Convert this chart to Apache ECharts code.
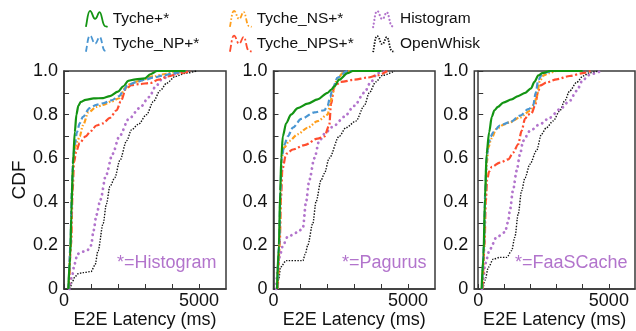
<!DOCTYPE html>
<html>
<head>
<meta charset="utf-8">
<script src="https://cdn.jsdelivr.net/npm/echarts@6/dist/echarts.min.js"></script>
<style>
html, body { margin: 0; padding: 0; background: #fff; }
#chart { width: 636px; height: 331px; }
</style>
</head>
<body>
<div id="chart"></div>
<script>
/* CDF of E2E latency, three panels */

// panel 1 : *=Histogram   [latency ms, cdf]
var p1Tyche = [[160,0],[230,0.15],[270,0.34],[330,0.57],[400,0.72],[460,0.8],[530,0.84],[620,0.858],[800,0.868],[1100,0.874],[1450,0.876],[1700,0.885],[2000,0.905],[2200,0.93],[2380,0.955],[2650,0.962],[3000,0.966],[3200,0.985],[3450,1.0],[4500,1.0]];
var p1NP = [[170,0],[240,0.2],[290,0.45],[340,0.6],[400,0.66],[480,0.72],[580,0.76],[700,0.79],[950,0.83],[1200,0.845],[1450,0.852],[1750,0.865],[2050,0.885],[2200,0.91],[2350,0.935],[2700,0.95],[3000,0.96],[3300,0.97],[3700,0.98],[4050,0.99],[4500,1.0]];
var p1NS = [[170,0],[250,0.2],[300,0.45],[350,0.6],[420,0.65],[500,0.68],[580,0.7],[700,0.75],[900,0.81],[1200,0.835],[1450,0.845],[1750,0.86],[2050,0.875],[2250,0.92],[2450,0.94],[2800,0.955],[3300,0.975],[3700,0.985],[4100,0.995],[4500,1.0]];
var p1NPS = [[180,0],[260,0.2],[320,0.45],[370,0.58],[450,0.63],[580,0.67],[800,0.7],[1000,0.725],[1200,0.75],[1450,0.76],[1700,0.785],[1950,0.82],[2100,0.86],[2300,0.92],[2500,0.935],[2800,0.94],[3200,0.945],[3500,0.96],[3850,0.975],[4300,0.99],[4700,1.0]];
var p1Hist = [[200,0],[300,0.06],[390,0.115],[500,0.16],[650,0.17],[850,0.175],[1000,0.2],[1100,0.27],[1200,0.34],[1350,0.41],[1550,0.52],[1800,0.62],[2050,0.7],[2400,0.78],[2800,0.83],[3150,0.88],[3400,0.93],[3650,0.965],[4000,0.985],[4400,1.0]];
var p1OW = [[230,0],[300,0.03],[400,0.055],[520,0.07],[700,0.075],[1000,0.08],[1150,0.11],[1260,0.175],[1450,0.3],[1570,0.39],[1700,0.47],[1880,0.51],[2070,0.59],[2320,0.68],[2500,0.73],[2750,0.755],[3060,0.8],[3310,0.86],[3560,0.91],[3810,0.945],[4120,0.975],[4500,0.99],[4900,1.0]];

// panel 2 : *=Pagurus
var p2Tyche = [[130,0],[200,0.2],[250,0.45],[290,0.6],[345,0.7],[470,0.76],[650,0.8],[900,0.83],[1270,0.85],[1640,0.87],[2010,0.9],[2150,0.915],[2260,0.93],[2440,0.96],[2750,0.99],[2950,1.0],[4000,1.0]];
var p2NP = [[140,0],[210,0.2],[260,0.45],[300,0.6],[400,0.66],[530,0.7],[720,0.74],[1030,0.78],[1520,0.81],[1890,0.82],[2010,0.84],[2100,0.88],[2200,0.92],[2380,0.97],[2750,1.0],[4000,1.0]];
var p2NS = [[150,0],[220,0.2],[270,0.45],[300,0.6],[400,0.65],[590,0.68],[900,0.71],[1270,0.74],[1640,0.77],[2010,0.8],[2120,0.86],[2200,0.9],[2320,0.95],[2570,0.99],[2850,1.0],[4000,1.0]];
var p2NPS = [[160,0],[230,0.2],[280,0.42],[330,0.55],[470,0.62],[720,0.64],[1150,0.66],[1640,0.69],[1890,0.7],[2070,0.75],[2140,0.85],[2260,0.93],[2500,0.95],[3000,0.96],[3500,0.97],[3860,0.98],[4230,1.0]];
var p2Hist = [[100,0],[160,0.1],[250,0.16],[350,0.2],[530,0.24],[900,0.26],[1090,0.28],[1210,0.4],[1330,0.5],[1520,0.6],[1700,0.68],[1950,0.72],[2260,0.75],[2630,0.79],[3000,0.84],[3370,0.9],[3620,0.95],[3860,0.99],[4200,1.0]];
var p2OW = [[140,0],[200,0.05],[260,0.1],[470,0.13],[1090,0.13],[1180,0.16],[1270,0.2],[1460,0.3],[1580,0.4],[1770,0.5],[1890,0.53],[2070,0.6],[2440,0.7],[2690,0.74],[3060,0.77],[3370,0.84],[3560,0.9],[3800,0.95],[4050,0.98],[4500,1.0]];

// panel 3 : *=FaaSCache
var p3Tyche = [[130,0],[200,0.15],[260,0.42],[320,0.62],[420,0.72],[520,0.79],[620,0.82],[750,0.835],[960,0.855],[1280,0.87],[1530,0.885],[1800,0.9],[2020,0.92],[2150,0.95],[2300,0.98],[2450,0.99],[2750,1.0],[4000,1.0]];
var p3NP = [[150,0],[220,0.2],[270,0.45],[320,0.6],[400,0.67],[480,0.7],[580,0.72],[830,0.75],[1210,0.765],[1600,0.795],[1920,0.825],[2100,0.84],[2200,0.9],[2300,0.96],[2450,0.985],[2650,0.995],[2900,1.0],[4000,1.0]];
var p3NS = [[150,0],[230,0.2],[280,0.45],[330,0.58],[390,0.65],[500,0.69],[700,0.735],[1000,0.755],[1210,0.765],[1600,0.787],[1980,0.817],[2150,0.85],[2230,0.88],[2360,0.955],[2500,0.98],[2700,0.99],[3000,1.0],[4000,1.0]];
var p3NPS = [[170,0],[240,0.2],[290,0.4],[340,0.5],[420,0.54],[520,0.56],[830,0.58],[1150,0.595],[1340,0.626],[1530,0.664],[1660,0.725],[1790,0.78],[1910,0.8],[2040,0.805],[2170,0.84],[2300,0.91],[2400,0.935],[2610,0.947],[3000,0.962],[3500,0.977],[4000,0.99],[4300,1.0]];
var p3Hist = [[140,0],[200,0.05],[260,0.115],[450,0.183],[700,0.237],[1020,0.26],[1150,0.31],[1210,0.36],[1340,0.458],[1470,0.542],[1600,0.618],[1720,0.68],[1980,0.725],[2360,0.756],[2740,0.786],[3120,0.824],[3500,0.863],[3760,0.908],[4010,0.96],[4300,0.985],[4700,1.0]];
var p3OW = [[180,0],[260,0.04],[390,0.1],[580,0.137],[830,0.145],[1090,0.145],[1280,0.176],[1400,0.237],[1530,0.344],[1660,0.45],[1790,0.51],[1980,0.573],[2230,0.634],[2420,0.71],[2610,0.74],[2870,0.771],[3120,0.817],[3310,0.863],[3500,0.908],[3760,0.947],[4010,0.977],[4270,0.992],[4600,1.0]];

var seriesNames = ['Tyche+*', 'Tyche_NP+*', 'Tyche_NS+*', 'Tyche_NPS+*', 'Histogram', 'OpenWhisk'];
var panelNotes = ['*=Histogram', '*=Pagurus', '*=FaaSCache'];
var xTickValues = [0, 1000, 2000, 3000, 4000, 5000];
var xLabelValues = [0, 5000];
var yTickValues = [0, 0.1, 0.2, 0.3, 0.4, 0.5, 0.6, 0.7, 0.8, 0.9, 1.0];
var yLabelValues = [0, 0.2, 0.4, 0.6, 0.8, 1.0];

var panels = [
    [p1Tyche, p1NP, p1NS, p1NPS, p1Hist, p1OW],
    [p2Tyche, p2NP, p2NS, p2NPS, p2Hist, p2OW],
    [p3Tyche, p3NP, p3NS, p3NPS, p3Hist, p3OW]
];

var colors = ['#139413', '#4a96d2', '#ff9e1b', '#ff4d2e', '#b274cc', '#111111'];
var dashes = ['solid', [6, 3], [5, 2, 1.5, 2, 1.5, 2], [7, 2.5, 2, 2.5], [0.1, 5.2], [1.4, 1.4]];
var widths = [2.2, 2.2, 2.2, 2.2, 2.8, 1.4];
var caps = ['butt', 'butt', 'butt', 'butt', 'round', 'butt'];

var gridLeft = [64, 273.5, 474.3];
var gridWidth = [162, 161.5, 160.7];
var xMin = [0, 0, -150];
var noteLeft = [117, 342, 515];

var font = 'Liberation Sans, Arial, Helvetica, sans-serif';
var mIcon = 'path://M0,16 C1.2,11 1.6,2 3.6,2 C5.6,2 6,9 8,9 C10,9 10.4,3 12,3 C14,3 14.2,14 16.5,15.2 L19,16';

var mychart = echarts.init(document.getElementById('chart'));

var grids = [], xAxes = [], yAxes = [], series = [], graphics = [];

for (var p = 0; p < 3; p++) {
    grids.push({
        left: gridLeft[p], top: 71, width: gridWidth[p], height: 218,
        show: true, borderColor: '#3a3a3a', borderWidth: 1.5,
        outerBoundsMode: 'none'
    });
    xAxes.push({
        type: 'value', gridIndex: p, min: xMin[p], max: 6000,
        name: 'E2E Latency (ms)', nameLocation: 'middle', nameGap: 22, nameMoveOverlap: false,
        nameTextStyle: { fontSize: 18, color: '#111', fontFamily: font },
        axisLine: { show: true, lineStyle: { color: '#3a3a3a', width: 1.5 } },
        axisTick: { show: true, inside: true, length: 5, customValues: xTickValues, lineStyle: { color: '#333' } },
        axisLabel: {
            customValues: xLabelValues, margin: 3, fontSize: 18, color: '#111', fontFamily: font,
            formatter: function (v) { return String(v); }
        },
        splitLine: { show: false }
    });
    yAxes.push({
        type: 'value', gridIndex: p, min: 0, max: 1,
        name: p === 0 ? 'CDF' : '', nameLocation: 'middle', nameGap: 35, nameRotate: 90, nameMoveOverlap: false,
        nameTextStyle: { fontSize: 19, color: '#111', fontFamily: font },
        axisLine: { show: true, lineStyle: { color: '#3a3a3a', width: 1.5 } },
        axisTick: { show: true, inside: true, length: 5, customValues: yTickValues, lineStyle: { color: '#333' } },
        axisLabel: {
            customValues: yLabelValues, margin: 6, fontSize: 18, color: '#111', fontFamily: font,
            formatter: function (v) { return v === 0 ? '0' : v.toFixed(1); }
        },
        splitLine: { show: false }
    });
    for (var s = 0; s < 6; s++) {
        series.push({
            name: seriesNames[s], type: 'line', xAxisIndex: p, yAxisIndex: p,
            data: panels[p][s],
            showSymbol: false, smooth: 0.3, smoothMonotone: 'x', silent: true,
            lineStyle: { color: colors[s], width: widths[s], type: dashes[s], cap: caps[s] },
            itemStyle: { color: colors[s] },
            z: 10 - s
        });
    }
    graphics.push({
        type: 'text', left: noteLeft[p], top: 254,
        style: { text: panelNotes[p], fill: '#b274cc', font: '18px ' + font }
    });
}

function legendItem(i) {
    return {
        name: seriesNames[i], icon: mIcon,
        itemStyle: { color: 'rgba(0,0,0,0)', borderColor: colors[i], borderWidth: i === 4 ? 2.2 : 1.8, borderType: i === 4 ? [0.1, 3.5] : dashes[i], borderCap: caps[i] }
    };
}

// three columns of two entries each
var legendLeft = [85, 229, 372];
var legends = [];
for (var c = 0; c < 3; c++) {
    legends.push({
        orient: 'vertical', left: legendLeft[c], top: 10, padding: 0,
        itemWidth: 22, itemHeight: 16, itemGap: 7, selectedMode: false,
        textStyle: { fontSize: 15.5, color: '#111', fontFamily: font },
        data: [legendItem(2 * c), legendItem(2 * c + 1)]
    });
}

var option = {
    animation: false,
    backgroundColor: '#fff',
    legend: legends,
    grid: grids,
    xAxis: xAxes,
    yAxis: yAxes,
    series: series,
    graphic: graphics
};

mychart.setOption(option);
</script>
</body>
</html>
